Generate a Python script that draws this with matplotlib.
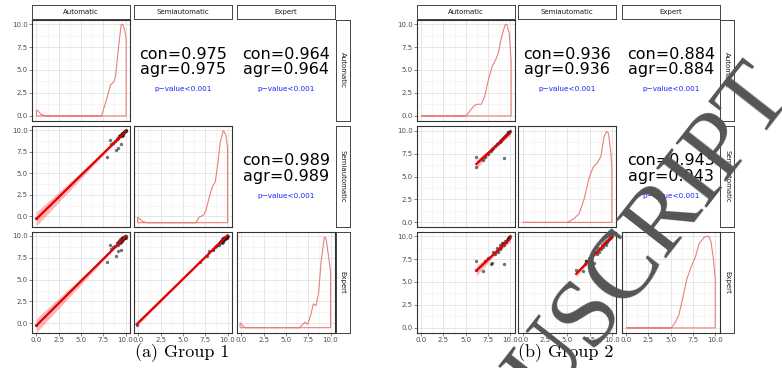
import numpy as np
import matplotlib
matplotlib.use("Agg")
import matplotlib.pyplot as plt

# ---------------- data ----------------
names = ["Automatic", "Semiautomatic", "Expert"]
ticks = [0.0, 2.5, 5.0, 7.5, 10.0]
tick_labels = ["0.0", "2.5", "5.0", "7.5", "10.0"]
minor_ticks = [1.25, 3.75, 6.25, 8.75]

# group 1, one value per subject
auto1 = [0.0, 7.9, 8.25, 8.9, 9.15, 9.5, 8.4, 8.6, 8.8, 9.0, 9.1, 9.2, 9.3, 9.35, 9.4,
         9.45, 9.5, 9.55, 9.6, 9.65, 9.7, 9.75, 9.8, 9.85, 9.9, 9.95, 10.0, 9.6, 9.7, 10.0]
semi1 = [-0.2, 6.95, 8.85, 7.7, 7.9, 8.4, 8.35, 8.55, 8.7, 9.0, 9.05, 9.1, 9.3, 9.35, 9.4,
         9.45, 9.45, 9.5, 9.6, 9.65, 9.7, 9.7, 9.75, 9.8, 9.9, 9.95, 10.0, 9.3, 9.5, 9.9]
expert1 = [-0.2, 7.05, 8.95, 7.75, 8.25, 8.4, 8.5, 8.7, 8.8, 9.2, 8.9, 9.3, 9.4, 9.2, 9.6,
           9.5, 9.3, 9.7, 9.5, 9.8, 9.6, 9.9, 9.8, 9.7, 10.0, 9.9, 10.0, 9.4, 9.6, 9.8]

# group 2
auto2 = [6.2, 6.2, 9.25, 6.9, 7.2, 7.5, 7.8, 8.0, 8.1, 8.3, 8.5, 8.6, 8.8, 8.9, 9.0,
         9.1, 9.2, 9.3, 9.4, 9.5, 9.6, 9.7, 9.8, 9.9, 10.0]
semi2 = [7.15, 6.0, 7.0, 6.8, 7.1, 7.4, 7.8, 8.0, 8.1, 8.3, 8.5, 8.6, 8.8, 8.9, 9.0,
         9.1, 9.2, 9.3, 9.4, 9.5, 9.6, 9.7, 9.8, 9.9, 10.0]
expert2 = [7.25, 6.3, 7.0, 6.2, 7.3, 7.6, 7.0, 7.1, 8.3, 8.0, 8.7, 8.3, 8.6, 9.0, 8.8,
           9.2, 9.3, 9.0, 9.5, 9.4, 9.6, 9.7, 9.8, 9.9, 10.0]

# upper panels: pairs (Auto,Semi), (Auto,Expert), (Semi,Expert)
con1 = [0.975, 0.964, 0.989]
agr1 = [0.975, 0.964, 0.989]
con2 = [0.936, 0.884, 0.943]
agr2 = [0.936, 0.884, 0.943]
pval_label = "p\u2212value<0.001"

# diagonal density curves (x, relative height)
d1_auto_x = [0.0, 0.1, 0.5, 1.0, 7.3, 7.87, 8.32, 8.69, 8.88, 9.15, 9.5, 9.67, 9.9, 10.07]
d1_auto_h = [0.06, 0.062, 0.018, 0.0, 0.0, 0.18, 0.34, 0.37, 0.43, 0.69, 0.99, 1.0, 0.94, 0.83]
d1_semi_x = [-0.1, 0.45, 1.0, 6.45, 6.82, 7.27, 7.57, 8.02, 8.31, 8.62, 8.88, 9.18, 9.52, 9.82, 10.0]
d1_semi_h = [0.06, 0.014, 0.0, 0.0, 0.06, 0.08, 0.13, 0.30, 0.39, 0.44, 0.62, 0.87, 1.0, 0.95, 0.8]
d1_exp_x = [-0.15, 0.11, 0.38, 6.5, 6.87, 7.14, 7.43, 7.81, 8.07, 8.38, 8.67, 8.94, 9.31, 9.5, 9.8, 10.0]
d1_exp_h = [0.055, 0.025, 0.0, 0.0, 0.036, 0.06, 0.036, 0.15, 0.26, 0.24, 0.39, 0.72, 0.99, 0.97, 0.76, 0.61]

d2_auto_x = [0.0, 5.05, 5.62, 6.0, 6.38, 6.76, 7.14, 7.6, 7.98, 8.36, 8.66, 9.04, 9.42, 9.6, 9.88, 10.1]
d2_auto_h = [0.0, 0.0, 0.073, 0.116, 0.127, 0.127, 0.216, 0.415, 0.54, 0.61, 0.686, 0.866, 0.99, 1.0, 0.9, 0.6]
d2_semi_x = [0.0, 5.03, 5.78, 6.34, 6.9, 7.46, 7.9, 8.39, 8.77, 9.14, 9.4, 9.62, 9.89, 10.0]
d2_semi_h = [0.0, 0.0, 0.043, 0.097, 0.26, 0.49, 0.6, 0.65, 0.72, 0.94, 0.99, 0.97, 0.76, 0.58]
d2_exp_x = [0.0, 5.04, 5.41, 5.9, 6.34, 6.83, 7.28, 7.76, 8.21, 8.77, 9.25, 9.52, 9.78, 10.0]
d2_exp_h = [0.0, 0.0, 0.044, 0.135, 0.32, 0.54, 0.66, 0.77, 0.92, 0.99, 1.0, 0.94, 0.76, 0.54]

# ---------------- layout (pixels) ----------------
W, H = 782, 368
fig = plt.figure(figsize=(W / 100, H / 100), dpi=100)


def px_axes(l, t, w, h):
    return fig.add_axes([l / W, 1 - (t + h) / H, w / W, h / H])


groups = [
    dict(cols=[32, 134, 237], colw=98, strip_x=335.5,
         data=[auto1, semi1, expert1],
         dens=[(d1_auto_x, d1_auto_h), (d1_semi_x, d1_semi_h), (d1_exp_x, d1_exp_h)],
         dlo=[0.0, -0.75, -0.5],
         ylims=[(-0.5, 10.5), (-1.25, 10.5), (-1.05, 10.5)],
         con=con1, agr=agr1, caption="(a) Group 1", cap_x=182),
    dict(cols=[416.7, 518.3, 621.7], colw=98, strip_x=720,
         data=[auto2, semi2, expert2],
         dens=[(d2_auto_x, d2_auto_h), (d2_semi_x, d2_semi_h), (d2_exp_x, d2_exp_h)],
         dlo=[0.0, 0.0, 0.0],
         ylims=[(-0.5, 10.5), (-0.5, 10.5), (-0.5, 10.5)],
         con=con2, agr=agr2, caption="(b) Group 2", cap_x=566),
]
rows = [19.5, 126, 231.5]
rowh = 101
xlim = (-0.5, 10.5)


def style_panel(ax, ylim, show_x, show_y):
    ax.set_xlim(xlim)
    ax.set_ylim(ylim)
    ax.set_xticks(ticks)
    ax.set_yticks(ticks)
    ax.set_xticks(minor_ticks, minor=True)
    ax.set_yticks(minor_ticks, minor=True)
    ax.grid(which="major", color="#e2e2e2", lw=0.6)
    ax.grid(which="minor", color="#efefef", lw=0.4)
    ax.set_axisbelow(True)
    for s in ax.spines.values():
        s.set_color("#333333")
        s.set_linewidth(0.8)
    ax.tick_params(which="minor", length=0)
    ax.tick_params(which="major", length=2, width=0.5, color="#555555",
                   labelsize=5, labelcolor="#4d4d4d", pad=1)
    ax.set_xticklabels(tick_labels)
    ax.set_yticklabels(tick_labels)
    if not show_x:
        ax.tick_params(axis="x", which="major", length=0, labelbottom=False)
    if not show_y:
        ax.tick_params(axis="y", which="major", length=0, labelleft=False)


def strip(l, t, w, h, label, rot):
    ax = px_axes(l, t, w, h)
    ax.set_xticks([])
    ax.set_yticks([])
    for s in ax.spines.values():
        s.set_color("#444444")
        s.set_linewidth(0.7)
    ax.text(0.5, 0.5, label, rotation=rot, ha="center", va="center",
            fontsize=5, color="#1a1a1a", transform=ax.transAxes)


pairs = [(0, 1), (0, 2), (1, 2)]
for g in groups:
    for j in range(3):
        strip(g["cols"][j], 5, g["colw"], 14, names[j], 0)
        strip(g["strip_x"], rows[j], 14, rowh, names[j], -90)
    for i in range(3):
        for j in range(3):
            ax = px_axes(g["cols"][j], rows[i], g["colw"], rowh)
            if j > i:
                ax.axis("off")
                k = pairs.index((i, j))
                ax.text(0.5, 0.58, "con=%.3f\nagr=%.3f" % (g["con"][k], g["agr"][k]),
                        ha="center", va="center", fontsize=11.5, linespacing=1.05,
                        transform=ax.transAxes)
                ax.text(0.5, 0.31, pval_label, ha="center", va="center",
                        fontsize=5.2, color="#1f1fff", transform=ax.transAxes)
                continue
            style_panel(ax, g["ylims"][i], i == 2, j == 0)
            if i == j:
                dx, dh = g["dens"][i]
                lo, hi = g["dlo"][i], 10.0
                yy = lo + np.array(dh) * (hi - lo)
                px = list(dx) + [dx[-1], dx[0]]
                py = list(yy) + [lo, lo]
                ax.fill(px, py, facecolor="none", edgecolor="#e8807a", lw=0.8, closed=True)
            else:
                x = np.array(g["data"][j])
                y = np.array(g["data"][i])
                b, a = np.polyfit(x, y, 1)
                xx = np.linspace(x.min(), x.max(), 100)
                fit = a + b * xx
                n = len(x)
                s = np.sqrt(np.sum((y - (a + b * x)) ** 2) / (n - 2))
                se = s * np.sqrt(1 / n + (xx - x.mean()) ** 2 / np.sum((x - x.mean()) ** 2))
                ax.fill_between(xx, fit - 2.05 * se, fit + 2.05 * se, color="#ff3030",
                                alpha=0.35, lw=0)
                ax.scatter(x, y, s=6, color="black", alpha=0.55, lw=0, zorder=3)
                ax.plot(xx, fit, color="#e00000", lw=1.6, zorder=4)
    fig.text(g["cap_x"] / W, 1 - 353 / H, g["caption"], ha="center", va="center",
             fontsize=13, family="cmr10")

# watermark
wm_x, wm_y = 590 / W, 1 - 349 / H
for txt, ha in (("MANU", "right"), ("SCRIPT", "left")):
    fig.text(wm_x, wm_y, txt, ha=ha, va="baseline", rotation=52, rotation_mode="anchor",
             fontsize=70, family="Liberation Serif", color="#555555", zorder=100)

fig.savefig("out.png", dpi=100)
